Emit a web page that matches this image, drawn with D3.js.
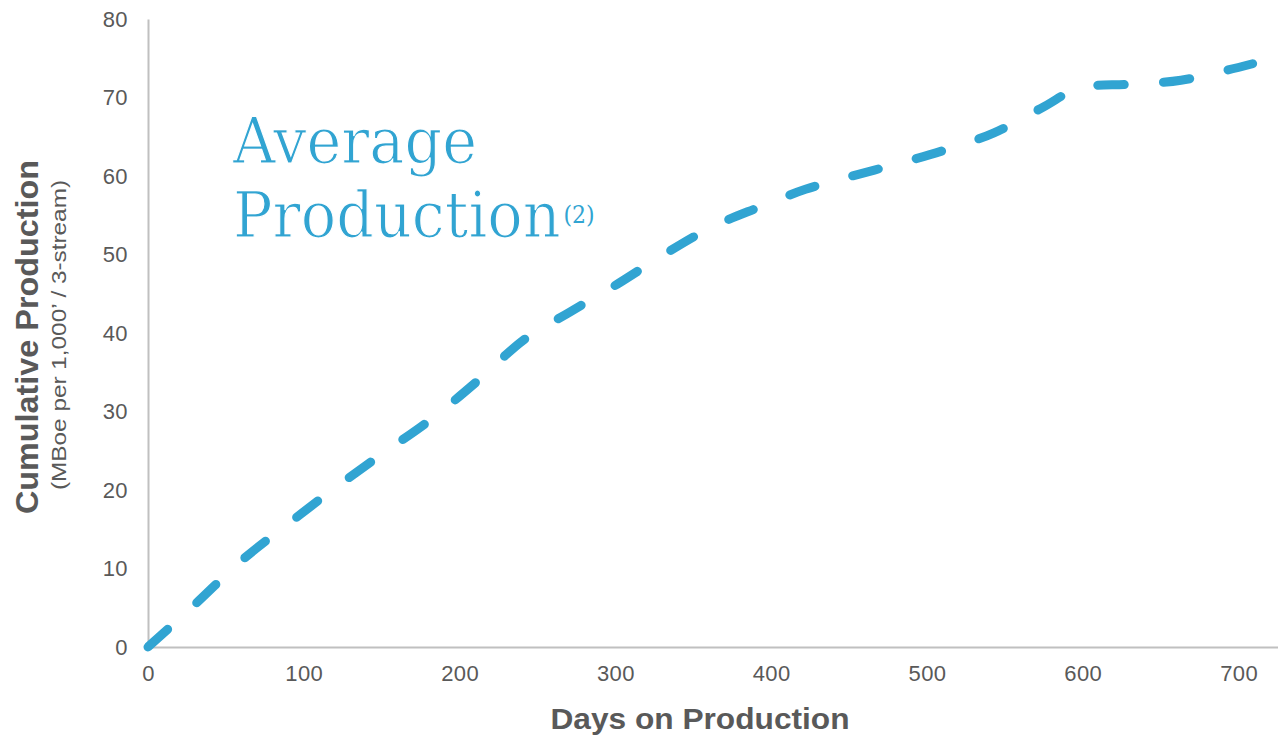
<!DOCTYPE html>
<html>
<head>
<meta charset="utf-8">
<script src="https://cdn.jsdelivr.net/npm/d3@7"></script>
<style>
  html, body { margin: 0; padding: 0; background: #ffffff; }
  svg { display: block; }
</style>
</head>
<body>
<svg id="chart" width="1278" height="738"></svg>
<script>
// Cumulative production curve (days on production vs MBoe per 1,000')
const days = [0, 30, 60, 90, 121, 151, 181, 211, 241, 271, 301, 332, 362, 392, 422, 452, 482, 513, 543, 573, 603, 633, 663, 693, 709];
const cumulative = [0, 5.4, 11.0, 15.7, 20.4, 24.7, 28.9, 33.8, 39.1, 42.7, 46.2, 50.1, 53.5, 56.0, 58.3, 60.0, 61.6, 63.4, 65.5, 68.6, 71.5, 71.7, 72.2, 73.5, 74.3];
const xTicks = [0, 100, 200, 300, 400, 500, 600, 700];
const yTicks = [0, 10, 20, 30, 40, 50, 60, 70, 80];

const svg = d3.select("#chart");
const plotLeft = 148, plotRight = 1278, plotTop = 19, plotBottom = 647;

const x = d3.scaleLinear().domain([0, 725.3]).range([plotLeft, plotRight]);
const y = d3.scaleLinear().domain([0, 80]).range([plotBottom, plotTop]);

const gray = "#595959";
const axisColor = "#c0c0c0";
const blue = "#31a4d2";
const sans = "'Liberation Sans', Arial, sans-serif";

// Axes (lines only, labels without tick marks)
const xAxis = svg.append("g")
  .attr("transform", `translate(0,${plotBottom})`)
  .call(d3.axisBottom(x).tickValues(xTicks).tickSize(0).tickPadding(18).tickFormat(d3.format("d")));
xAxis.select(".domain").attr("stroke", axisColor).attr("stroke-width", 2);
xAxis.selectAll("text")
  .attr("fill", gray)
  .style("font-family", sans)
  .style("font-size", "22px")
  .style("letter-spacing", "0.4px");

const yAxis = svg.append("g")
  .attr("transform", `translate(${plotLeft},0)`)
  .call(d3.axisLeft(y).tickValues(yTicks).tickSize(0).tickPadding(20).tickFormat(d3.format("d")));
yAxis.select(".domain").attr("stroke", axisColor).attr("stroke-width", 2);
yAxis.selectAll("text")
  .attr("fill", gray)
  .style("font-family", sans)
  .style("font-size", "22px")
  .style("letter-spacing", "0.4px");

// Axis titles
svg.append("text")
  .attr("x", 700).attr("y", 729)
  .attr("text-anchor", "middle")
  .attr("fill", gray)
  .attr("textLength", 299)
  .attr("lengthAdjust", "spacingAndGlyphs")
  .style("font-family", sans)
  .style("font-weight", "bold")
  .style("font-size", "29px")
  .text("Days on Production");

svg.append("text")
  .attr("transform", "translate(38,337) rotate(-90)")
  .attr("text-anchor", "middle")
  .attr("fill", gray)
  .attr("textLength", 354)
  .attr("lengthAdjust", "spacingAndGlyphs")
  .style("font-family", sans)
  .style("font-weight", "bold")
  .style("font-size", "31px")
  .text("Cumulative Production");

svg.append("text")
  .attr("transform", "translate(66,335) rotate(-90)")
  .attr("text-anchor", "middle")
  .attr("fill", gray)
  .attr("textLength", 310)
  .attr("lengthAdjust", "spacingAndGlyphs")
  .style("font-family", sans)
  .style("font-size", "20px")
  .text("(MBoe per 1,000\u2019 / 3-stream)");

// Production curve
const points = days.map((d, i) => [d, cumulative[i]]);
const line = d3.line()
  .x(d => x(d[0]))
  .y(d => y(d[1]))
  .curve(d3.curveMonotoneX);

svg.append("path")
  .datum(points)
  .attr("d", line)
  .attr("fill", "none")
  .attr("stroke", blue)
  .attr("stroke-width", 9)
  .attr("stroke-linecap", "round")
  .attr("stroke-dasharray", "26.5,39.3");

// Series annotation (light slab-style lettering)
const note = svg.append("g")
  .attr("transform", "translate(233,0) scale(0.92,1)")
  .attr("fill", blue)
  .attr("stroke", "#ffffff")
  .attr("stroke-width", 1.2)
  .style("font-family", "'DejaVu Serif', 'Liberation Serif', serif");
note.append("text")
  .attr("x", 0).attr("y", 163)
  .style("font-size", "64px")
  .text("Average");
const prod = note.append("text")
  .attr("x", 0).attr("y", 237)
  .style("font-size", "64px");
prod.append("tspan").text("Production");
prod.append("tspan")
  .attr("dx", 3)
  .attr("dy", -14)
  .attr("stroke", "none")
  .style("font-size", "24px")
  .text("(2)");
</script>
</body>
</html>
